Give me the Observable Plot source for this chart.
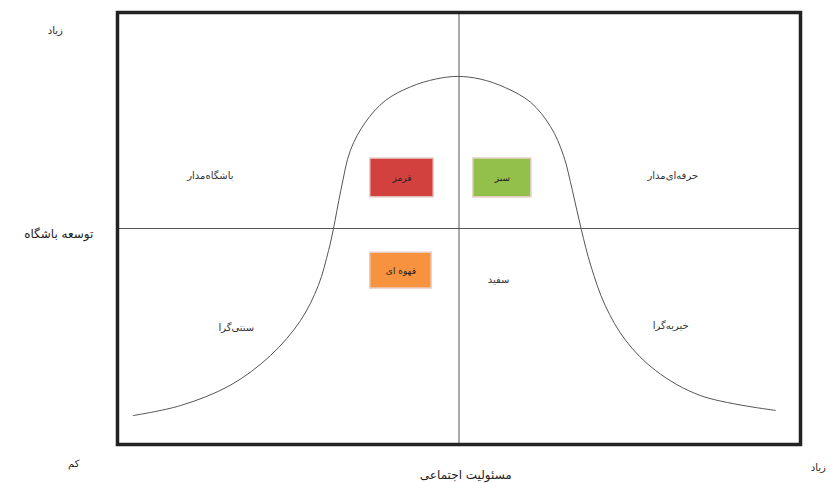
<!DOCTYPE html>
<html>
<head>
<meta charset="utf-8">
<script src="https://cdn.jsdelivr.net/npm/d3@7"></script>
<script src="https://cdn.jsdelivr.net/npm/@observablehq/plot@0.6"></script>
<style>
  html, body { margin: 0; padding: 0; background: #fff; }
  #chart svg { display: block; }
</style>
</head>
<body>
<div id="chart"></div>
<script>
// Bell-shaped curve (x: social responsibility 0-100, y: club development 0-100)
const curveX = [2.3, 9.2, 16.5, 22.4, 26.8, 29.4, 30.9, 31.6, 32.7, 34.1, 36.3, 39.2, 42.9, 46.6, 49.8, 53.1, 56.8, 60.5, 63.4, 65.3, 66.6, 67.9, 69.3, 71.4, 74.4, 78.8, 85.4, 96.3];
const curveY = [6.7, 9.0, 13.7, 20.6, 28.7, 36.8, 44.9, 49.8, 58.8, 68.1, 74.6, 79.6, 82.8, 84.6, 85.2, 84.6, 82.6, 79.2, 73.6, 66.9, 58.8, 49.8, 41.4, 32.2, 24.1, 17.1, 11.3, 7.9];

// Coloured cells (club categories)
const boxNames = ["قرمز", "سبز", "قهوه ای"];
const boxX1 = [37.0, 52.1, 37.0];
const boxX2 = [46.3, 60.6, 46.0];
const boxY1 = [57.2, 57.2, 36.1];
const boxY2 = [66.2, 66.2, 44.4];
const boxColors = ["#d2413e", "#92c04a", "#f7923f"];

// Quadrant labels
const quadNames = ["باشگاه‌مدار", "حرفه‌ای‌مدار", "سنتی‌گرا", "خیریه‌گرا", "سفید"];
const quadX = [13.6, 81.3, 17.4, 81.0, 55.8];
const quadY = [62.3, 62.3, 26.9, 27.5, 38.2];

// Axis texts
const axisTitleX = "مسئولیت اجتماعی";
const axisTitleY = "توسعه باشگاه";
const highLabel = "زیاد";
const lowLabel = "کم";

const curve = curveX.map((x, i) => ({x, y: curveY[i]}));
const boxes = boxNames.map((name, i) => ({name, x1: boxX1[i], x2: boxX2[i], y1: boxY1[i], y2: boxY2[i], color: boxColors[i]}));
const quads = quadNames.map((name, i) => ({name, x: quadX[i], y: quadY[i]}));
const outer = [
  {t: highLabel, x: -9.1, y: 95.8, size: 10, weight: "normal"},
  {t: axisTitleY, x: -8.6, y: 48.8, size: 12, weight: "bold"},
  {t: lowLabel, x: -6.4, y: -4.4, size: 10, weight: "normal"},
  {t: axisTitleX, x: 51.0, y: -7.2, size: 12, weight: "bold"},
  {t: highLabel, x: 102.6, y: -5.3, size: 10, weight: "normal"}
];

const font = "'DejaVu Sans', 'Noto Sans', sans-serif";

const chart = Plot.plot({
  width: 835,
  height: 483,
  marginLeft: 117,
  marginRight: 35,
  marginTop: 12,
  marginBottom: 39,
  style: {fontFamily: font, background: "#fff"},
  x: {domain: [0, 100], axis: null},
  y: {domain: [0, 100], axis: null},
  marks: [
    Plot.ruleX([50], {stroke: "#555", strokeWidth: 1}),
    Plot.ruleY([50], {stroke: "#555", strokeWidth: 1}),
    Plot.line(curve, {x: "x", y: "y", curve: "catmull-rom", stroke: "#555", strokeWidth: 1}),
    Plot.rect(boxes, {x1: "x1", x2: "x2", y1: "y1", y2: "y2", fill: "color", stroke: "#e8d0c8", strokeWidth: 1.5}),
    Plot.text(boxes, {x: d => (d.x1 + d.x2) / 2, y: d => (d.y1 + d.y2) / 2, text: "name", fontSize: 9, fill: "#222"}),
    Plot.text(quads, {x: "x", y: "y", text: "name", fontSize: 10, fill: "#333"}),
    Plot.text(outer, {x: "x", y: "y", text: "t", fontSize: d => d.size, fontWeight: d => d.weight, fill: "#222"}),
    Plot.frame({stroke: "#222", strokeWidth: 3.5})
  ]
});
document.getElementById("chart").appendChild(chart);
</script>
</body>
</html>
